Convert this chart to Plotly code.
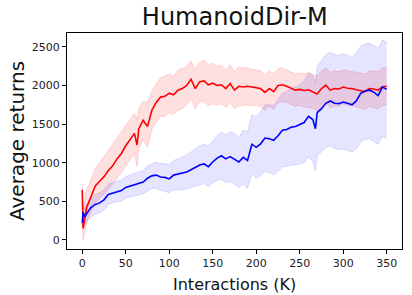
import plotly.graph_objects as go

x = [0, 1, 3, 5, 10, 15, 20, 25, 30, 35, 40, 45, 50, 55, 60, 63, 65, 70, 75, 80, 85, 90, 95,
     100, 105, 110, 115, 120, 125, 130, 135, 140, 145, 150, 155, 160, 165, 170, 175, 180,
     185, 190, 195, 200, 205, 210, 215, 220, 225, 230, 235, 240, 245, 250, 255, 260, 265,
     268, 270, 275, 280, 285, 290, 295, 300, 305, 310, 315, 320, 325, 330, 335, 340, 345, 350]

red_mean = [650, 150, 280, 420, 560, 700, 760, 820, 900, 960, 1050, 1120, 1220, 1300, 1380, 1230,
            1440, 1550, 1470, 1680, 1780, 1850, 1860, 1900, 1880, 1940, 1960, 2000, 2080, 1960,
            2050, 2060, 2010, 2030, 2000, 2010, 1960, 2025, 1940, 1990, 1980, 1990, 1975, 1970,
            1960, 1910, 1960, 1920, 2000, 2010, 1990, 1960, 1940, 1950, 1935, 1945, 1920, 1900,
            1890, 1960, 2005, 1940, 1960, 1955, 1980, 1965, 1960, 1945, 1935, 1920, 1960, 1955,
            1940, 1985, 1990]
red_upper = [720, 400, 520, 650, 780, 930, 1000, 1080, 1160, 1230, 1320, 1400, 1480, 1560, 1640,
             1560, 1700, 1800, 1780, 1920, 2020, 2100, 2120, 2150, 2120, 2200, 2220, 2250, 2320,
             2200, 2300, 2330, 2260, 2290, 2250, 2260, 2200, 2270, 2180, 2240, 2230, 2230, 2210,
             2200, 2190, 2140, 2190, 2150, 2220, 2230, 2200, 2170, 2150, 2160, 2150, 2170, 2140,
             2130, 2120, 2190, 2230, 2170, 2190, 2180, 2200, 2190, 2180, 2170, 2160, 2150, 2190,
             2190, 2180, 2230, 2230]
red_lower = [580, 0, 100, 220, 360, 480, 540, 590, 660, 720, 800, 870, 960, 1040, 1120, 950, 1180,
             1300, 1200, 1430, 1530, 1600, 1600, 1650, 1620, 1680, 1700, 1750, 1830, 1700, 1800,
             1790, 1740, 1760, 1750, 1760, 1720, 1780, 1700, 1740, 1740, 1750, 1740, 1740, 1730,
             1680, 1730, 1690, 1780, 1790, 1780, 1750, 1730, 1740, 1720, 1720, 1700, 1690, 1660,
             1730, 1780, 1710, 1730, 1730, 1760, 1740, 1740, 1720, 1710, 1690, 1730, 1720, 1700,
             1740, 1750]

blue_mean = [220, 360, 300, 340, 420, 460, 480, 520, 590, 610, 630, 640, 680, 700, 715, 722, 730,
             750, 800, 830, 840, 815, 810, 790, 840, 850, 860, 880, 910, 940, 970, 985, 950, 1010,
             1060, 1090, 1050, 1080, 1050, 1010, 1070, 1030, 1240, 1200, 1245, 1320, 1310, 1290,
             1350, 1420, 1430, 1460, 1470, 1490, 1520, 1600, 1560, 1440, 1650, 1700, 1770, 1800,
             1770, 1765, 1785, 1770, 1750, 1800, 1900, 1930, 1940, 1915, 1870, 1980, 1950]
blue_upper = [300, 440, 400, 450, 540, 590, 610, 650, 720, 740, 760, 780, 820, 840, 860, 870, 880,
              900, 960, 990, 1010, 990, 990, 970, 1030, 1050, 1070, 1100, 1140, 1180, 1220, 1240,
              1210, 1280, 1350, 1400, 1360, 1400, 1380, 1330, 1420, 1400, 1620, 1600, 1660, 1750,
              1750, 1740, 1820, 1900, 1920, 1960, 1980, 2010, 2060, 2160, 2130, 2030, 2250, 2320,
              2400, 2430, 2400, 2390, 2410, 2390, 2370, 2420, 2510, 2540, 2550, 2520, 2480, 2590,
              2560]
blue_lower = [150, 280, 210, 240, 300, 330, 350, 390, 460, 480, 500, 500, 540, 560, 570, 580, 580,
              600, 640, 670, 670, 640, 630, 610, 650, 650, 650, 660, 680, 700, 720, 730, 690, 740,
              770, 790, 740, 760, 720, 680, 720, 670, 860, 800, 830, 890, 870, 840, 890, 950, 950,
              970, 970, 980, 1000, 1070, 1020, 900, 1100, 1140, 1200, 1220, 1180, 1170, 1180, 1160,
              1140, 1180, 1270, 1300, 1310, 1280, 1240, 1340, 1320]

x_ticks = [0, 50, 100, 150, 200, 250, 300, 350]
y_ticks = [0, 500, 1000, 1500, 2000, 2500]

FONT = "DejaVu Sans"
fig = go.Figure()


def band(upper, lower, fill, edge):
    fig.add_trace(go.Scatter(x=x, y=upper, mode="lines", line=dict(color=edge, width=1),
                             showlegend=False, hoverinfo="skip"))
    fig.add_trace(go.Scatter(x=x, y=lower, mode="lines", line=dict(color=edge, width=1),
                             fill="tonexty", fillcolor=fill, showlegend=False, hoverinfo="skip"))


band(red_upper, red_lower, "rgba(255,0,0,0.12)", "rgba(255,0,0,0.14)")
band(blue_upper, blue_lower, "rgba(0,0,255,0.10)", "rgba(0,0,255,0.12)")
fig.add_trace(go.Scatter(x=x, y=red_mean, mode="lines", line=dict(color="#ff0000", width=1.6),
                         showlegend=False))
fig.add_trace(go.Scatter(x=x, y=blue_mean, mode="lines", line=dict(color="#0000ff", width=1.6),
                         showlegend=False))

axis_common = dict(showline=True, linecolor="black", linewidth=1, mirror=True, ticks="outside",
                   ticklen=4, tickcolor="black", showgrid=False, zeroline=False,
                   tickfont=dict(family=FONT, size=11, color="#222"))
fig.update_xaxes(range=[-17.5, 367.5], tickvals=x_ticks, **axis_common)
fig.update_yaxes(range=[-117, 2680], tickvals=y_ticks, **axis_common)

fig.update_layout(
    width=412, height=295,
    margin=dict(l=67, r=10, t=33, b=46),
    plot_bgcolor="white", paper_bgcolor="white",
    title=dict(text="HumanoidDir-M", x=0.57, xanchor="center", y=0.945, yanchor="middle",
               font=dict(family=FONT, size=24, color="#111")),
    annotations=[
        dict(text="Interactions (K)", xref="paper", yref="paper", x=0.5, y=0, yshift=-35,
             yanchor="middle", showarrow=False, font=dict(family=FONT, size=16, color="#111")),
        dict(text="Average returns", xref="paper", yref="paper", x=0, y=0.5, xshift=-50,
             xanchor="center", yanchor="middle", textangle=-90, showarrow=False,
             font=dict(family=FONT, size=20, color="#111")),
    ],
)

fig.write_html("out.html", config={"displayModeBar": False},
               post_script="document.body.style.margin='0';")
